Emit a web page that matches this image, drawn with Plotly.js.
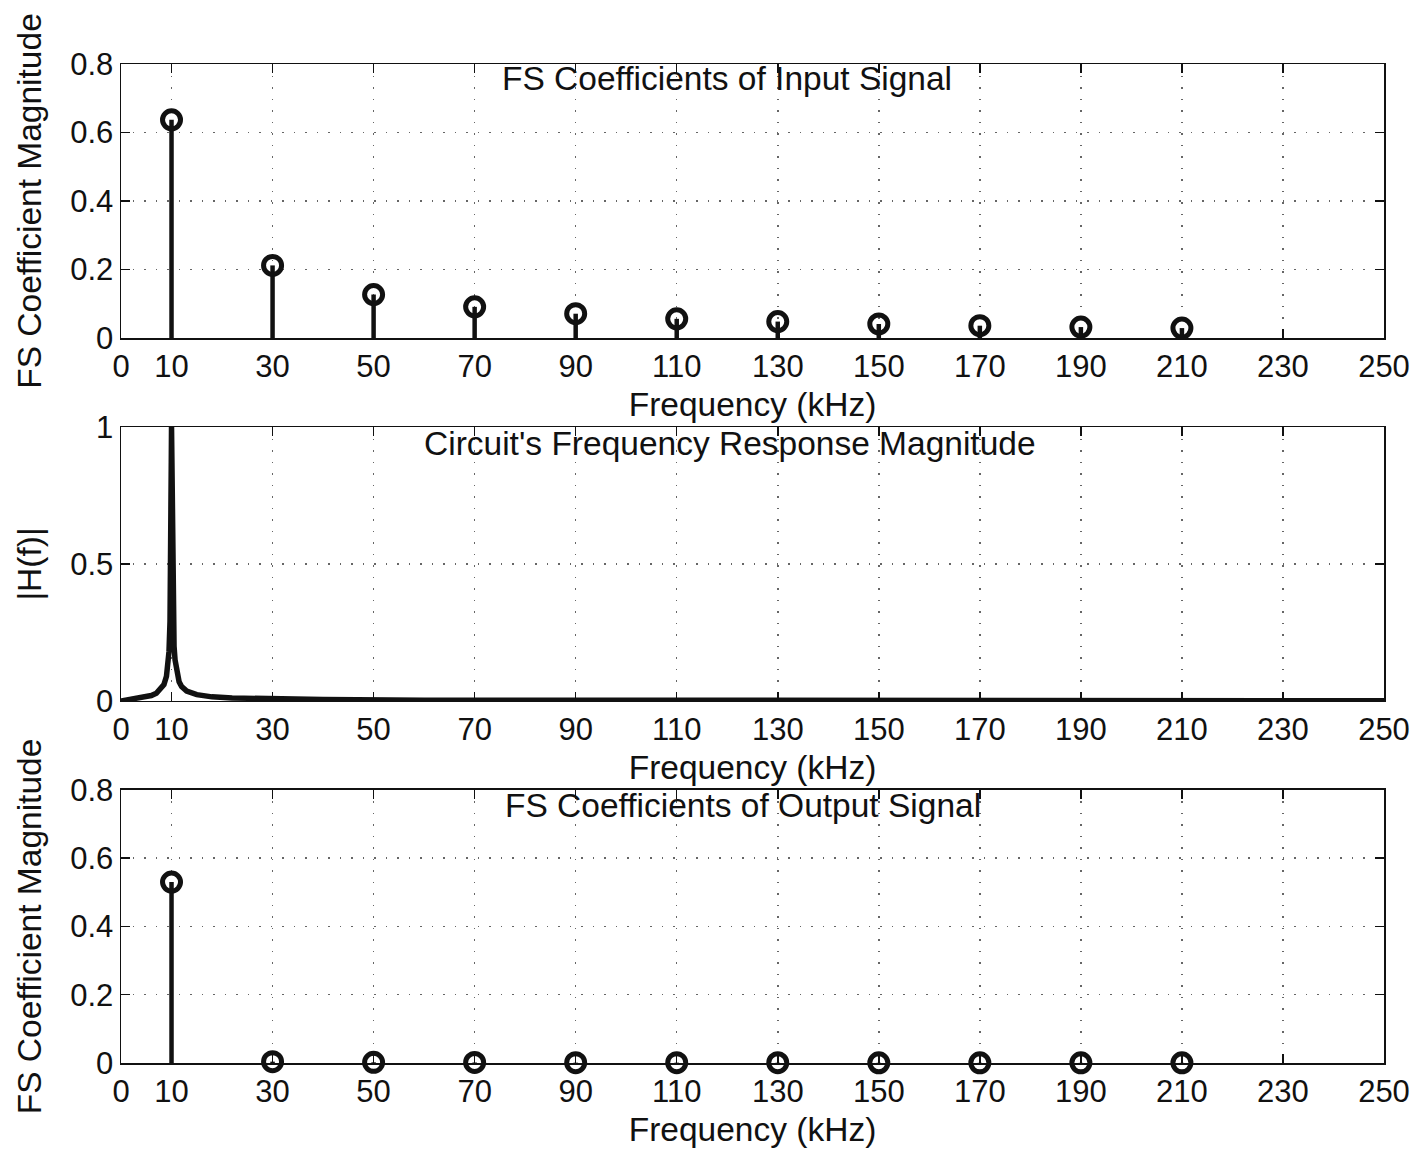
<!DOCTYPE html>
<html>
<head>
<meta charset="utf-8">
<script src="https://cdn.plot.ly/plotly-3.0.1.min.js"></script>
<style>html,body{margin:0;padding:0;background:#fff;}#chart{width:1420px;height:1153px;}</style>
</head>
<body>
<div id="chart"></div>
<script>
// ---- data ----
const harmonicFreqs = [10, 30, 50, 70, 90, 110, 130, 150, 170, 190, 210];           // kHz
const inputCoeffs   = [0.637, 0.212, 0.127, 0.091, 0.071, 0.056, 0.048, 0.041, 0.036, 0.032, 0.029];
const outputCoeffs  = [0.530, 0.004, 0.002, 0.0015, 0.001, 0.001, 0.0008, 0.0007, 0.0006, 0.0005, 0.0005];

const respFreqs = [0, 2, 4, 6, 7, 8, 8.5, 9, 9.3, 9.5, 9.7, 9.8, 9.9, 9.95, 10, 10.05, 10.1, 10.2, 10.3, 10.5, 10.7, 11, 11.5, 12, 13, 15, 18, 22, 30, 40, 60, 90, 130, 180, 250];
const respMag   = [0, 0.006, 0.011, 0.02, 0.028, 0.045, 0.06, 0.09, 0.13, 0.18, 0.29, 0.41, 0.66, 0.87, 1.0, 0.87, 0.67, 0.43, 0.31, 0.2, 0.15, 0.105, 0.07, 0.053, 0.036, 0.023, 0.015, 0.011, 0.007, 0.005, 0.003, 0.002, 0.0015, 0.001, 0.0008];

const xTickVals  = [0, 10, 30, 50, 70, 90, 110, 130, 150, 170, 190, 210, 230, 250];
const xTickText  = ['0', '10', '30', '50', '70', '90', '110', '130', '150', '170', '190', '210', '230', '250'];
const coefYTicks = [0, 0.2, 0.4, 0.6, 0.8];
const coefYText  = ['0', '0.2', '0.4', '0.6', '0.8'];
const respYTicks = [0, 0.5, 1];
const respYText  = ['0', '0.5', '1'];

const titles = ['FS Coefficients of Input Signal', "Circuit's Frequency Response Magnitude", 'FS Coefficients of Output Signal'];
const xLabel = 'Frequency (kHz)';
const coefYLabel = 'FS Coefficient Magnitude';
const respYLabel = '|H(f)|';

// ---- styling ----
const FONT = 'Liberation Sans, Arial, Helvetica, sans-serif';
const INK = '#111';
const GRID = '#666';
const GRIDDASH = '1.5px,10px';

function stemTrace(vals, xa, ya) {
  return {
    type: 'scatter', mode: 'markers', x: harmonicFreqs, y: vals, xaxis: xa, yaxis: ya,
    cliponaxis: false,
    marker: {symbol: 'circle-open', size: 18, color: INK, line: {width: 5, color: INK}},
    error_y: {type: 'data', symmetric: false, array: vals.map(() => 0), arrayminus: vals,
              thickness: 4.5, width: 0, color: INK},
    hoverinfo: 'x+y', showlegend: false
  };
}

const traces = [
  stemTrace(inputCoeffs, 'x', 'y'),
  {type: 'scatter', mode: 'lines', x: respFreqs, y: respMag, xaxis: 'x2', yaxis: 'y2',
   line: {color: INK, width: 5.5}, showlegend: false},
  stemTrace(outputCoeffs, 'x3', 'y3')
];

function xAxis(anchor) {
  return {
    anchor: anchor, domain: [0, 1], range: [0, 250],
    tickmode: 'array', tickvals: xTickVals, ticktext: xTickText,
    showgrid: true, gridcolor: GRID, griddash: GRIDDASH, gridwidth: 1.5,
    ticks: 'inside', ticklen: 9, tickwidth: 1.5, tickcolor: INK,
    showline: true, mirror: 'ticks', linecolor: INK, linewidth: 1.5, zeroline: false,
    tickfont: {family: FONT, size: 31, color: INK},
    title: {text: xLabel, font: {family: FONT, size: 33.5, color: INK}, standoff: 10},
    fixedrange: true
  };
}
function yAxis(anchor, domain, range, vals, text, label) {
  return {
    anchor: anchor, domain: domain, range: range,
    tickmode: 'array', tickvals: vals, ticktext: text,
    showgrid: true, gridcolor: GRID, griddash: GRIDDASH, gridwidth: 1.5,
    ticks: 'inside', ticklen: 9, tickwidth: 1.5, tickcolor: INK,
    showline: true, mirror: 'ticks', linecolor: INK, linewidth: 1.5, zeroline: false,
    tickfont: {family: FONT, size: 31, color: INK},
    title: {text: label, font: {family: FONT, size: 33.5, color: INK}, standoff: 18},
    fixedrange: true
  };
}

const dTop = [0.7257, 1.0], dMid = [0.3624, 0.6366], dBot = [0.0, 0.2733];
const titleFont = {family: FONT, size: 33.5, color: INK};

const layout = {
  width: 1420, height: 1153,
  margin: {l: 121, r: 36, t: 64, b: 90},
  paper_bgcolor: '#fff', plot_bgcolor: '#fff',
  font: {family: FONT, color: INK},
  showlegend: false,
  xaxis: xAxis('y'), yaxis: yAxis('x', dTop, [0, 0.8], coefYTicks, coefYText, coefYLabel),
  xaxis2: xAxis('y2'), yaxis2: yAxis('x2', dMid, [0, 1], respYTicks, respYText, respYLabel),
  xaxis3: xAxis('y3'), yaxis3: yAxis('x3', dBot, [0, 0.8], coefYTicks, coefYText, coefYLabel),
  annotations: [
    {text: titles[0], xref: 'paper', yref: 'paper', x: 0.4798, y: dTop[1], yshift: 6, xanchor: 'center', yanchor: 'top', showarrow: false, font: titleFont},
    {text: titles[1], xref: 'paper', yref: 'paper', x: 0.4822, y: dMid[1], yshift: 4, xanchor: 'center', yanchor: 'top', showarrow: false, font: titleFont},
    {text: titles[2], xref: 'paper', yref: 'paper', x: 0.4925, y: dBot[1], yshift: 5, xanchor: 'center', yanchor: 'top', showarrow: false, font: titleFont}
  ]
};

Plotly.newPlot('chart', traces, layout, {displayModeBar: false, staticPlot: true});
</script>
</body>
</html>
